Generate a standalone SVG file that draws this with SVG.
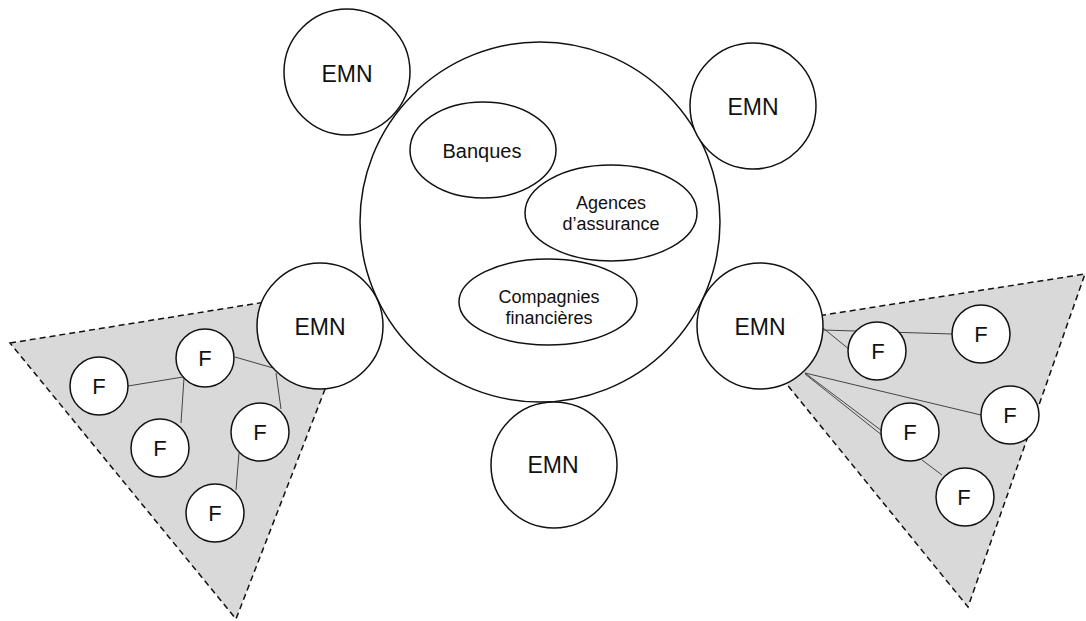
<svg xmlns="http://www.w3.org/2000/svg" width="1086" height="621" viewBox="0 0 1086 621">
<style>
.zone{fill:#d9d9d9;stroke:#111;stroke-width:1.5;stroke-dasharray:6 4}
.n{fill:#fff;stroke:#111;stroke-width:1.5}
.c line{stroke:#444;stroke-width:1}
.t{font-family:"Liberation Sans",Arial,sans-serif;fill:#111;text-anchor:middle}
.emn{font-size:23px}
.f{font-size:22px}
.s{font-size:20px}
.m{font-size:18px}
</style>
<rect width="1086" height="621" fill="#fff"/>
<g id="zone-left"><polygon class="zone" points="10,343 365,286 236,619"/></g>
<g id="zone-right"><polygon class="zone" points="741,328 1085,274 968,607"/></g>
<g id="connectors" class="c">
<line x1="128" y1="386" x2="183" y2="377"/>
<line x1="184" y1="378" x2="181" y2="423"/>
<line x1="235" y1="357" x2="273" y2="368"/>
<line x1="276" y1="373" x2="281" y2="409"/>
<line x1="239" y1="453" x2="236" y2="490"/>
<line x1="823" y1="330" x2="952" y2="334"/>
<line x1="823" y1="328" x2="850" y2="350"/>
<line x1="805" y1="373" x2="981" y2="415"/>
<line x1="805" y1="373" x2="882" y2="431"/>
<line x1="805" y1="374" x2="883" y2="436"/>
<line x1="922" y1="460" x2="942" y2="475"/>
</g>
<g id="hub">
<circle class="n" cx="540" cy="222" r="180"/>
</g>
<g id="banques"><ellipse class="n" cx="483" cy="150" rx="73" ry="48"/><text class="t s" x="482" y="158">Banques</text></g>
<g id="agences"><ellipse class="n" cx="611" cy="213" rx="86" ry="48"/><text class="t m" x="611" y="209">Agences</text><text class="t m" x="611" y="230">d’assurance</text></g>
<g id="compagnies"><ellipse class="n" cx="548" cy="302" rx="89" ry="43"/><text class="t m" x="549" y="303">Compagnies</text><text class="t m" x="549" y="324">financières</text></g>
<g id="emn-tl"><circle class="n" cx="347" cy="72" r="63"/><text class="t emn" x="347" y="82">EMN</text></g>
<g id="emn-tr"><circle class="n" cx="753" cy="106" r="63"/><text class="t emn" x="753" y="115">EMN</text></g>
<g id="emn-l"><circle class="n" cx="320" cy="326" r="63"/><text class="t emn" x="320" y="335">EMN</text></g>
<g id="emn-r"><circle class="n" cx="760" cy="326" r="63"/><text class="t emn" x="760" y="335">EMN</text></g>
<g id="emn-b"><circle class="n" cx="554" cy="465" r="63"/><text class="t emn" x="553" y="473">EMN</text></g>
<g id="f-l1"><circle class="n" cx="99" cy="386" r="29"/><text class="t f" x="99" y="394">F</text></g>
<g id="f-l2"><circle class="n" cx="205" cy="358" r="29"/><text class="t f" x="205" y="366">F</text></g>
<g id="f-l3"><circle class="n" cx="160" cy="448" r="29"/><text class="t f" x="160" y="456">F</text></g>
<g id="f-l4"><circle class="n" cx="260" cy="432" r="29"/><text class="t f" x="260" y="440">F</text></g>
<g id="f-l5"><circle class="n" cx="215" cy="513" r="29"/><text class="t f" x="215" y="521">F</text></g>
<g id="f-r1"><circle class="n" cx="877" cy="351" r="29"/><text class="t f" x="878" y="359">F</text></g>
<g id="f-r2"><circle class="n" cx="981" cy="334" r="29"/><text class="t f" x="981" y="342">F</text></g>
<g id="f-r3"><circle class="n" cx="1010" cy="415" r="29"/><text class="t f" x="1010" y="423">F</text></g>
<g id="f-r4"><circle class="n" cx="910" cy="432" r="29"/><text class="t f" x="910" y="440">F</text></g>
<g id="f-r5"><circle class="n" cx="965" cy="497" r="29"/><text class="t f" x="964" y="505">F</text></g>
</svg>
